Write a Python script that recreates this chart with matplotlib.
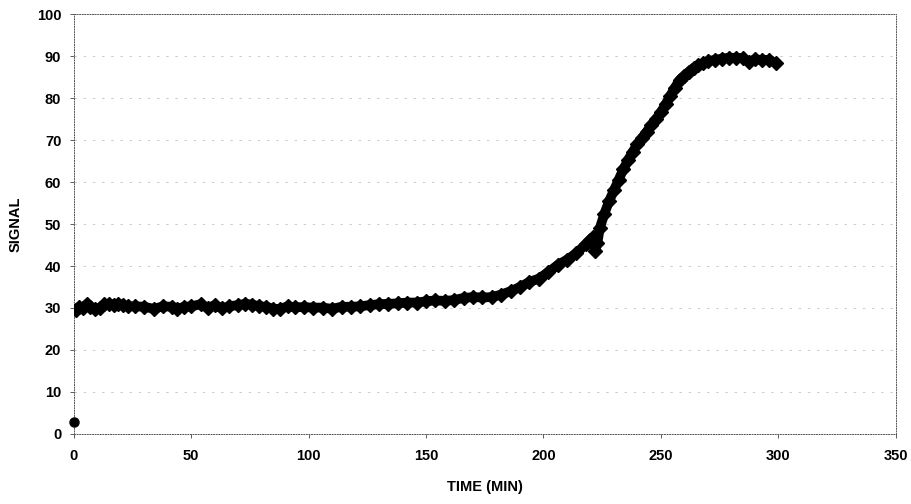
import matplotlib
matplotlib.use('Agg')
import matplotlib.pyplot as plt

plt.rcParams['font.family'] = ['Liberation Sans', 'DejaVu Sans']

# readings taken off the scanned curve (minutes, signal)
time_min = [0, 1, 2, 4, 5.5, 7, 9, 11, 13, 15, 17, 19, 21, 23, 26, 30, 34, 38, 42, 44,
            47, 50, 54, 57, 60, 63, 66, 70, 73, 76, 79, 82, 85, 88, 91, 94, 98, 102,
            106, 110, 114, 118, 122, 126, 130, 134, 138, 142, 146, 150, 154, 158, 162,
            166, 170, 174, 178, 182, 186, 190, 194, 198, 202, 206, 210, 214, 218, 220,
            221, 222, 223, 224, 226, 228, 230, 232, 234, 236, 238, 240, 242, 244, 246,
            248, 250, 252, 254, 256, 258, 260, 262, 264, 266, 268, 270, 273, 276, 279,
            282, 285, 287.5, 290, 293, 296, 299]
signal = [2.9, 29.6, 30.2, 30.0, 30.9, 30.2, 29.7, 29.9, 30.9, 31.0, 30.8, 31.0, 30.6,
          30.4, 30.4, 30.3, 29.8, 30.4, 30.3, 29.8, 30.3, 30.4, 30.9, 30.0, 30.7, 29.9,
          30.4, 30.7, 31.0, 30.8, 30.4, 30.3, 29.8, 29.8, 30.4, 30.2, 30.2, 30.1, 30.1,
          29.8, 30.3, 30.3, 30.4, 30.7, 30.9, 31.0, 31.1, 31.3, 31.3, 31.6, 31.8, 31.7,
          31.9, 32.4, 32.6, 32.5, 32.6, 33.2, 34.0, 35.0, 36.2, 37.0, 38.5, 40.2, 41.5,
          43.0, 45.2, 46.3, 46.8, 43.5, 45.5, 49.0, 52.5, 55.5, 58.0, 60.5, 63.0, 65.2,
          67.2, 69.0, 70.5, 72.0, 73.6, 75.0, 76.6, 78.5, 80.5, 82.5, 84.3, 85.3, 86.3,
          87.2, 87.8, 88.3, 88.8, 89.1, 89.4, 89.6, 89.6, 89.5, 88.6, 89.2, 89.1, 89.1, 88.4]

x_ticks = [0, 50, 100, 150, 200, 250, 300, 350]
y_ticks = [0, 10, 20, 30, 40, 50, 60, 70, 80, 90, 100]

fig = plt.figure(figsize=(9.12, 5.04), dpi=100)
ax = fig.add_axes([0.081, 0.139, 0.901, 0.833])

# first reading stands alone near zero, the rest forms the thick trace
ax.plot(time_min[:1], signal[:1], linestyle='none', marker='o', markersize=6.5,
        color='black', clip_on=False, zorder=4)
ax.plot(time_min[1:], signal[1:], color='black', lw=7, marker='D', markersize=7,
        markerfacecolor='black', markeredgecolor='black', solid_joinstyle='round',
        solid_capstyle='round', zorder=3)

ax.set_xlim(0, 350)
ax.set_ylim(0, 100)
ax.set_xticks(x_ticks)
ax.set_yticks(y_ticks)
ax.tick_params(axis='both', labelsize=10.5, length=3, width=0.6, color='#444444')
for lab in ax.get_xticklabels() + ax.get_yticklabels():
    lab.set_fontweight('bold')
ax.tick_params(axis='x', pad=8)
ax.tick_params(axis='y', pad=6)

ax.yaxis.grid(True, color='#c4c4c4', linestyle=(0, (3, 8)), lw=0.6)
ax.set_axisbelow(True)
for s in ax.spines.values():
    s.set_color('#555555')
    s.set_linewidth(0.7)
    s.set_linestyle(':')

ax.set_xlabel('TIME (MIN)', fontsize=10.5, fontweight='bold', labelpad=12)
ax.set_ylabel('SIGNAL', fontsize=10.5, fontweight='bold', labelpad=10)

fig.savefig('out.png', dpi=100)
